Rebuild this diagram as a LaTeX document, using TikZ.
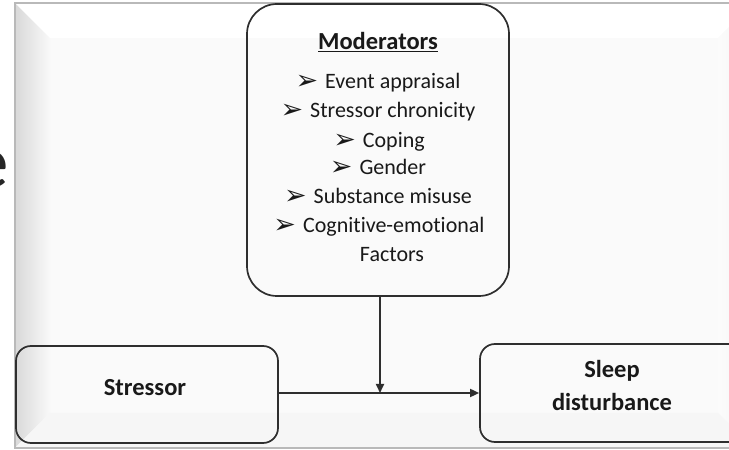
\documentclass[tikz,border=0pt]{standalone}
\usepackage{fontspec}
\setmainfont{Carlito}[Ligatures={NoCommon}]
\newfontfamily\dejavu{DejaVu Sans}
\usetikzlibrary{arrows.meta}
\newcommand\bulmark{\raisebox{-1pt}{\dejavu\fontsize{27}{27}\selectfont ➢}\hspace{7pt}}
\begin{document}
\begin{tikzpicture}[x=1pt,y=1pt,
  boxshape/.style={draw=black!82, line width=1.7pt, minimum width=#1, inner sep=0pt},
  conn/.style={draw=black!82, line width=1.7pt, -{Triangle[length=9pt,width=8pt]}},
  lbl/.style={font=\fontsize{24.5}{33}\selectfont\bfseries, text=black!90, anchor=base, inner sep=0pt},
  item/.style={font=\fontsize{22}{28.6}\selectfont, text=black!90, anchor=base, inner sep=0pt}]
\clip (0,0) rectangle (729,450);
\fill[white] (0,0) rectangle (729,450);
% cropped text fragment at the left edge
\node[font=\fontsize{75}{75}\selectfont, text=black!85, anchor=base east, inner sep=0pt] (frag) at (9,262) {e};
% bevelled frame
\fill[gray!4] (15,2) rectangle (760,447);
\shade[left color=gray!30, right color=gray!5] (15,2) -- (50,37) -- (50,412) -- (15,447) -- cycle;
\fill[white] (15,447) -- (50,412) -- (718,412) -- (753,447) -- cycle;
\shade[left color=gray!3, right color=gray!9] (718,37) -- (718,412) -- (753,447) -- (753,2) -- cycle;
\fill[gray!7] (15,2) -- (50,37) -- (718,37) -- (753,2) -- cycle;
\draw[gray!55, line width=1.2pt] (760,2) -- (15,2) -- (15,447) -- (760,447);
% boxes
\node[boxshape=262pt, rounded corners=30pt, minimum height=292pt] (mod) at (378,300) {};
\node[boxshape=262pt, rounded corners=15pt, minimum height=97pt] (str) at (147,55.5) {};
\node[boxshape=265pt, rounded corners=15pt, minimum height=98pt] (slp) at (612.5,57) {};
% texts
\node[lbl] (head) at (378,400) {\underline{Moderators}};
\node[item] (i1) at (378,361) {\bulmark Event appraisal};
\node[item] (i2) at (378,332) {\bulmark Stressor chronicity};
\node[item] (i3) at (379,302) {\bulmark Coping};
\node[item] (i4) at (378,275) {\bulmark Gender};
\node[item] (i5) at (378,246) {\bulmark Substance misuse};
\node[item] (i6) at (379,217) {\bulmark Cognitive-emotional};
\node[item] (i7) at (392,188) {Factors};
\node[lbl] (strl) at (145,54) {Stressor};
\node[lbl] (slp1) at (612,72) {Sleep};
\node[lbl] (slp2) at (612,39) {disturbance};
% connectors
\coordinate (j) at (380,57);
\draw[conn] (mod.south -| j) -- (j);
\draw[conn] (str.east |- j) -- (slp.west |- j);
\end{tikzpicture}
\end{document}
